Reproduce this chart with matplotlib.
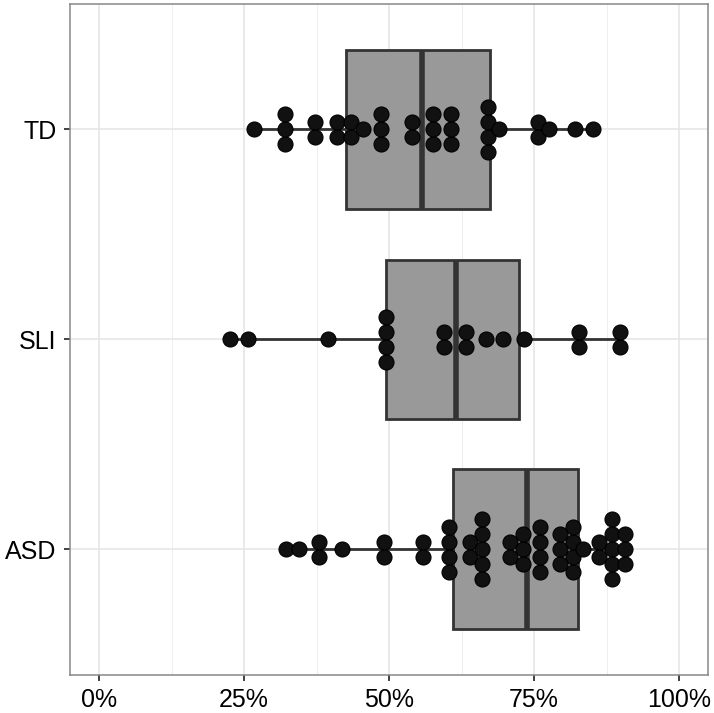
import numpy as np
import matplotlib
matplotlib.use("Agg")
import matplotlib.pyplot as plt
from matplotlib.ticker import FuncFormatter, MultipleLocator

plt.rcParams['font.family'] = ['Liberation Sans', 'DejaVu Sans']

groups = ["ASD", "SLI", "TD"]

# dot positions (percent), one entry per dot
td_values = [26.8, 32.0, 32.0, 32.0, 37.3, 37.3, 41.1, 41.1, 43.5, 43.5,
             45.5, 48.7, 48.7, 48.7, 54.0, 54.0, 57.6, 57.6, 57.6,
             60.7, 60.7, 60.7, 67.1, 67.1, 67.1, 67.1, 69.0,
             75.7, 75.7, 77.5, 82.1, 85.1]
sli_values = [22.6, 25.7, 39.4, 49.4, 49.4, 49.4, 49.4, 59.5, 59.5,
              63.2, 63.2, 66.7, 69.7, 73.3, 82.8, 82.8, 89.8, 89.8]
asd_values = [32.2, 34.4, 38.0, 38.0, 41.9, 49.2, 49.2, 55.8, 55.8,
              60.3, 60.3, 60.3, 60.3, 63.9, 63.9,
              66.0, 66.0, 66.0, 66.0, 66.0, 70.8, 70.8, 73.1, 73.1, 73.1,
              76.0, 76.0, 76.0, 76.0, 79.4, 79.4, 79.4,
              81.8, 81.8, 81.8, 81.8, 83.4, 86.2, 86.2,
              88.4, 88.4, 88.4, 88.4, 88.4, 90.7, 90.7, 90.7]

# box statistics (percent)
whisker_low = [32.2, 22.5, 26.8]
q1 = [61.1, 49.4, 42.5]
median = [73.8, 61.6, 55.7]
q3 = [82.5, 72.4, 67.4]
whisker_high = [90.6, 89.9, 85.4]

W, H = 714, 713
fig = plt.figure(figsize=(W / 100, H / 100), dpi=100)
ax = fig.add_axes([70 / W, 1 - 675 / H, (708 - 70) / W, (675 - 3.5) / H])

ax.set_xlim(-5, 105)
ax.set_ylim(0.4, 3.6)

# grid like theme_bw
ax.xaxis.set_major_locator(MultipleLocator(25))
ax.xaxis.set_minor_locator(MultipleLocator(12.5))
ax.xaxis.set_major_formatter(FuncFormatter(lambda v, p: f"{v:.0f}%"))
ax.grid(True, which="major", color="#e6e6e6", linewidth=1.2, zorder=0)
ax.grid(True, which="minor", axis="x", color="#eeeeee", linewidth=0.7, zorder=0)
ax.set_axisbelow(True)

stats = []
for i, g in enumerate(groups):
    stats.append(dict(label=g, whislo=whisker_low[i], q1=q1[i], med=median[i],
                      q3=q3[i], whishi=whisker_high[i], fliers=[]))

ax.bxp(stats, positions=[1, 2, 3], vert=False, widths=0.76, patch_artist=True,
       showcaps=False,
       boxprops=dict(facecolor="#999999", edgecolor="#333333", linewidth=2.0),
       whiskerprops=dict(color="#333333", linewidth=2.0),
       medianprops=dict(color="#333333", linewidth=4.0),
       zorder=2)

# centered dot stacks
dot_px = 15.0
fig.canvas.draw()
px_per_unit = ax.bbox.height / (3.6 - 0.4)
step = dot_px / px_per_unit
dot_size = (dot_px * 72 / 100) ** 2

for pos, vals in zip([1, 2, 3], [asd_values, sli_values, td_values]):
    uniq, counts = np.unique(vals, return_counts=True)
    xs, ys = [], []
    for u, n in zip(uniq, counts):
        for k in range(n):
            xs.append(u)
            ys.append(pos + (k - (n - 1) / 2) * step)
    ax.scatter(xs, ys, s=dot_size, color="#111111", edgecolors="#000000",
               linewidths=0.8, zorder=3)

ax.set_yticks([1, 2, 3])
ax.set_yticklabels(groups)
for s in ax.spines.values():
    s.set_color("#888888")
    s.set_linewidth(1.1)
ax.tick_params(axis="both", which="major", labelsize=18, colors="#333333",
               labelcolor="black", length=4.5, width=1.3, pad=5)
ax.tick_params(axis="x", which="minor", length=0)

fig.savefig("out.png", dpi=100)
